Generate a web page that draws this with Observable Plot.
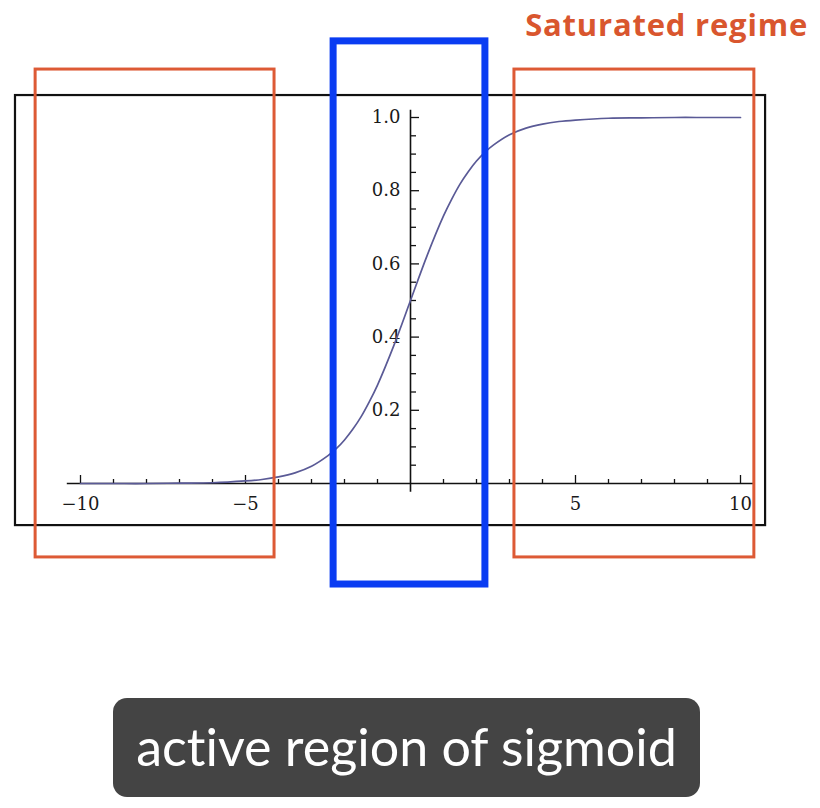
<!DOCTYPE html>
<html>
<head>
<meta charset="utf-8">
<script src="https://cdn.jsdelivr.net/npm/d3@7"></script>
<script src="https://cdn.jsdelivr.net/npm/@observablehq/plot@0.6"></script>
<style>
  body { margin: 0; background: #fff; }
  #wrap { position: relative; width: 820px; height: 808px; }
  #chart { position: absolute; left: 0; top: 0; }
  #title { position: absolute; right: 12px; top: 3px; font-family: "Open Sans", sans-serif; font-weight: 700; font-size: 31px; letter-spacing: 0.8px; color: #D9562E; }
  #caption { position: absolute; left: 113px; top: 698px; width: 587px; height: 99px; border-radius: 14px; background: #444; color: #fff;
    font-family: Lato, sans-serif; font-size: 52px; font-variant-ligatures: none; display: flex; align-items: center; justify-content: center; box-sizing: border-box; padding-bottom: 4px; }
</style>
</head>
<body>
<div id="wrap">
  <div id="chart"></div>
  <div id="title">Saturated regime</div>
  <div id="caption">active region of sigmoid</div>
</div>
<script>
// curve
const curveX = [-10, -9, -8, -7, -6, -5, -4.5, -4, -3.5, -3, -2.5, -2.25, -2, -1.75, -1.5, -1.25, -1, -0.5, 0, 0.5, 1, 1.25, 1.5, 1.75, 2, 2.25, 2.5, 3, 3.5, 4, 4.5, 5, 6, 7, 8, 9, 10];
const curveY = [0, 0, 0, 0.001, 0.002, 0.007, 0.011, 0.018, 0.029, 0.047, 0.076, 0.095, 0.119, 0.148, 0.182, 0.223, 0.269, 0.378, 0.5, 0.622, 0.731, 0.777, 0.818, 0.852, 0.881, 0.905, 0.924, 0.953, 0.971, 0.982, 0.989, 0.993, 0.998, 0.999, 1, 1, 1];

const xMajor = [-10, -5, 5, 10];
const xMinor = [-9, -8, -7, -6, -4, -3, -2, -1, 1, 2, 3, 4, 6, 7, 8, 9];
const xLabels = ["\u221210", "\u22125", "5", "10"];
const yMajor = [0.2, 0.4, 0.6, 0.8, 1.0];
const yMinor = [0.05, 0.1, 0.15, 0.25, 0.3, 0.35, 0.45, 0.5, 0.55, 0.65, 0.7, 0.75, 0.85, 0.9, 0.95];
const yLabels = ["0.2", "0.4", "0.6", "0.8", "1.0"];

// annotation boxes, in data units
const frameBox = [{x1: -11.97, x2: 10.76, y1: -0.115, y2: 1.06}];
const saturatedBoxes = [{x1: -11.36, x2: -4.12, y1: -0.202, y2: 1.131}, {x1: 3.15, x2: 10.42, y1: -0.202, y2: 1.131}];
const activeBox = [{x1: -2.33, x2: 2.27, y1: -0.276, y2: 1.208}];

const curve = curveX.map((x, i) => ({x, y: curveY[i]}));
const pxX = 33, pxY = 366; // pixels per unit, from the ranges below

const chart = Plot.plot({
  width: 820,
  height: 600,
  margin: 0,
  x: {domain: [-10, 10], range: [80, 740], axis: null},
  y: {domain: [0, 1], range: [483, 117], axis: null},
  style: {background: "transparent"},
  marks: [
    Plot.rect(frameBox, {x1: "x1", x2: "x2", y1: "y1", y2: "y2", fill: "none", stroke: "#111", strokeWidth: 2.2}),
    // axes
    Plot.ruleY([0], {x1: -10.4, x2: 10.45, stroke: "#111", strokeWidth: 1.6}),
    Plot.ruleX([0], {y1: -0.024, y2: 1.02, stroke: "#111", strokeWidth: 1.6}),
    Plot.ruleX(xMajor, {x: d => d, y1: 0, y2: 8 / pxY, stroke: "#111", strokeWidth: 1.3}),
    Plot.ruleX(xMinor, {x: d => d, y1: 0, y2: 4 / pxY, stroke: "#111", strokeWidth: 1.3}),
    Plot.ruleY(yMajor, {y: d => d, x1: 0, x2: 9 / pxX, stroke: "#111", strokeWidth: 1.3}),
    Plot.ruleY(yMinor, {y: d => d, x1: 0, x2: 6 / pxX, stroke: "#111", strokeWidth: 1.3}),
    Plot.text(xMajor, {x: d => d, y: 0, text: (d, i) => xLabels[i], dy: 21, fontFamily: "DejaVu Serif", fontSize: 18, fill: "#1a1a1a", letterSpacing: 1.5}),
    Plot.text(yMajor, {x: 0, y: d => d, text: (d, i) => yLabels[i], dx: -10, textAnchor: "end", fontFamily: "DejaVu Serif", fontSize: 18, fill: "#1a1a1a", letterSpacing: 2.5}),
    Plot.line(curve, {x: "x", y: "y", curve: "catmull-rom", stroke: "#5a5a96", strokeWidth: 1.7}),
    Plot.rect(saturatedBoxes, {x1: "x1", x2: "x2", y1: "y1", y2: "y2", fill: "none", stroke: "#DD5A35", strokeWidth: 3}),
    Plot.rect(activeBox, {x1: "x1", x2: "x2", y1: "y1", y2: "y2", fill: "none", stroke: "#0A3CF2", strokeWidth: 7})
  ]
});

d3.select("#chart").append(() => chart);
</script>
</body>
</html>
